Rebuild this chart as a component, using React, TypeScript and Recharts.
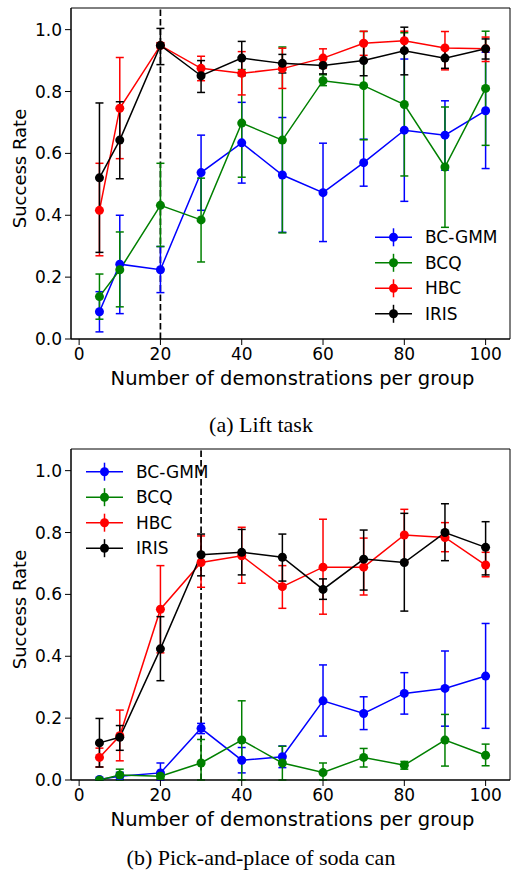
import React from 'react';
import { ComposedChart, Line, ErrorBar, XAxis, YAxis, ReferenceLine, ReferenceArea } from 'recharts';

const demos = [5, 10, 20, 30, 40, 50, 60, 70, 80, 90, 100];
const xTicks = [0, 20, 40, 60, 80, 100];
const yTicks = [0, 0.2, 0.4, 0.6, 0.8, 1.0];
const methods = ['BC-GMM', 'BCQ', 'HBC', 'IRIS'];
const colors = ['#0000ff', '#008000', '#ff0000', '#000000'];

// (a) Lift task: mean, lower and upper end of each error bar
const liftBcGmm = [0.088, 0.242, 0.224, 0.538, 0.634, 0.530, 0.473, 0.570, 0.675, 0.659, 0.738];
const liftBcGmmLo = [0.023, 0.082, 0.150, 0.416, 0.504, 0.345, 0.315, 0.494, 0.445, 0.546, 0.551];
const liftBcGmmHi = [0.153, 0.400, 0.299, 0.659, 0.765, 0.716, 0.633, 0.646, 0.905, 0.770, 0.927];
const liftBcq = [0.137, 0.224, 0.432, 0.385, 0.698, 0.643, 0.835, 0.819, 0.758, 0.556, 0.810];
const liftBcqLo = [0.064, 0.104, 0.299, 0.249, 0.523, 0.343, 0.819, 0.644, 0.527, 0.361, 0.626];
const liftBcqHi = [0.210, 0.346, 0.568, 0.520, 0.871, 0.944, 0.854, 0.994, 0.990, 0.750, 0.995];
const liftHbc = [0.416, 0.746, 0.949, 0.875, 0.859, 0.874, 0.908, 0.956, 0.964, 0.941, 0.938];
const liftHbcLo = [0.269, 0.583, 0.940, 0.835, 0.789, 0.810, 0.875, 0.917, 0.930, 0.870, 0.897];
const liftHbcHi = [0.568, 0.910, 0.958, 0.914, 0.929, 0.940, 0.938, 0.995, 0.995, 0.994, 0.976];
const liftIris = [0.521, 0.643, 0.949, 0.851, 0.908, 0.891, 0.884, 0.900, 0.932, 0.908, 0.938];
const liftIrisLo = [0.280, 0.518, 0.887, 0.797, 0.851, 0.860, 0.857, 0.851, 0.854, 0.875, 0.905];
const liftIrisHi = [0.763, 0.767, 1.004, 0.900, 0.962, 0.920, 0.910, 0.960, 1.008, 0.940, 0.970];

// (b) Pick-and-place of soda can
const canBcGmm = [0.002, 0.012, 0.023, 0.167, 0.064, 0.075, 0.256, 0.215, 0.280, 0.296, 0.336];
const canBcGmmLo = [0.0, 0.002, 0.0, 0.150, 0.023, 0.040, 0.142, 0.163, 0.213, 0.174, 0.167];
const canBcGmmHi = [0.005, 0.025, 0.055, 0.183, 0.105, 0.110, 0.372, 0.269, 0.347, 0.417, 0.506];
const canBcq = [0.0, 0.016, 0.012, 0.055, 0.129, 0.055, 0.024, 0.073, 0.048, 0.129, 0.080];
const canBcqLo = [0.0, 0.0, 0.004, 0.0, 0.0, 0.0, 0.0, 0.042, 0.035, 0.045, 0.046];
const canBcqHi = [0.0, 0.035, 0.020, 0.131, 0.256, 0.109, 0.055, 0.102, 0.060, 0.212, 0.116];
const canHbc = [0.073, 0.143, 0.552, 0.703, 0.725, 0.625, 0.688, 0.688, 0.792, 0.784, 0.695];
const canHbcLo = [0.042, 0.062, 0.411, 0.623, 0.636, 0.555, 0.536, 0.598, 0.706, 0.738, 0.657];
const canHbcHi = [0.103, 0.226, 0.693, 0.789, 0.817, 0.693, 0.843, 0.782, 0.875, 0.832, 0.736];
const canIris = [0.120, 0.138, 0.424, 0.728, 0.736, 0.720, 0.616, 0.714, 0.703, 0.800, 0.752];
const canIrisLo = [0.042, 0.096, 0.321, 0.660, 0.663, 0.643, 0.584, 0.614, 0.546, 0.709, 0.663];
const canIrisHi = [0.199, 0.176, 0.528, 0.795, 0.810, 0.795, 0.650, 0.808, 0.862, 0.893, 0.835];

const FONT = '"DejaVu Sans", sans-serif';

type Series = { mean: number[]; lo: number[]; hi: number[] };

function buildRows(series: Series[]) {
  return demos.map((x, i) => {
    const row: any = { x };
    series.forEach((s, k) => {
      row['m' + k] = s.mean[i];
      row['e' + k] = [Math.max(0, s.mean[i] - s.lo[i]), Math.max(0, s.hi[i] - s.mean[i])];
    });
    return row;
  });
}

const liftRows = buildRows([
  { mean: liftBcGmm, lo: liftBcGmmLo, hi: liftBcGmmHi },
  { mean: liftBcq, lo: liftBcqLo, hi: liftBcqHi },
  { mean: liftHbc, lo: liftHbcLo, hi: liftHbcHi },
  { mean: liftIris, lo: liftIrisLo, hi: liftIrisHi },
]);

const canRows = buildRows([
  { mean: canBcGmm, lo: canBcGmmLo, hi: canBcGmmHi },
  { mean: canBcq, lo: canBcqLo, hi: canBcqHi },
  { mean: canHbc, lo: canHbcLo, hi: canHbcHi },
  { mean: canIris, lo: canIrisLo, hi: canIrisHi },
]);

const XTitle = (p: any) => {
  const vb = p.viewBox;
  return (
    <text x={vb.x + vb.width / 2 + 2} y={vb.y + 46} textAnchor="middle" fontFamily={FONT} fontSize={19.5} fill="#000">
      Number of demonstrations per group
    </text>
  );
};

const YTitle = (p: any) => {
  const vb = p.viewBox;
  const cx = 19;
  const cy = vb.y + vb.height / 2 - 5;
  return (
    <text x={cx} y={cy} transform={`rotate(-90 ${cx} ${cy})`} textAnchor="middle" dominantBaseline="central"
      fontFamily={FONT} fontSize={18} fill="#000">
      Success Rate
    </text>
  );
};

function Panel({ rows, cutoff }: { rows: any[]; cutoff: number }) {
  return (
    <ComposedChart width={512} height={400} data={rows} margin={{ top: 8, right: 2, bottom: 0, left: 0 }}>
      <ReferenceArea x1={-2} x2={106} y1={0} y2={1.07} fill="none" stroke="#000" strokeWidth={1} ifOverflow="visible" />
      <XAxis dataKey="x" type="number" domain={[-2, 106]} ticks={xTicks} allowDataOverflow height={61}
        tickSize={6} tickMargin={3} stroke="#000" tick={{ fill: '#000', fontSize: 17, fontFamily: FONT }}
        label={{ content: XTitle }} />
      <YAxis type="number" domain={[0, 1.07]} ticks={yTicks} allowDataOverflow width={71}
        tickSize={6} tickMargin={3} stroke="#000" tick={{ fill: '#000', fontSize: 17, fontFamily: FONT }}
        tickFormatter={(v: number) => v.toFixed(1)} label={{ content: YTitle }} />
      <ReferenceLine x={cutoff} stroke="#000" strokeWidth={1.7} strokeDasharray="6.5 3" />
      {methods.map((name, k) => (
        <Line key={name} name={name} type="linear" dataKey={'m' + k} stroke={colors[k]} strokeWidth={1.5}
          dot={{ r: 4.5, fill: colors[k], stroke: colors[k], strokeWidth: 0 }} activeDot={false}
          isAnimationActive={false}>
          <ErrorBar dataKey={'e' + k} direction="y" width={4} strokeWidth={1.5} stroke={colors[k]} isAnimationActive={false} />
        </Line>
      ))}
    </ComposedChart>
  );
}

function LegendRows({ x, y }: { x: number; y: number }) {
  return (
    <g>
      {methods.map((name, k) => {
        const cy = y + k * 25.5;
        return (
          <g key={name}>
            <line x1={x} x2={x + 37} y1={cy} y2={cy} stroke={colors[k]} strokeWidth={1.5} />
            <line x1={x + 18.5} x2={x + 18.5} y1={cy - 9} y2={cy + 9} stroke={colors[k]} strokeWidth={1.5} />
            <circle cx={x + 18.5} cy={cy} r={4.5} fill={colors[k]} />
            <text x={x + 50} y={cy} dominantBaseline="central" fontFamily={FONT} fontSize={17} fill="#000">{name}</text>
          </g>
        );
      })}
    </g>
  );
}

export default function App() {
  return (
    <div style={{ position: 'absolute', left: 0, top: 0, width: 512, height: 880, background: '#fff' }}>
      <div style={{ position: 'absolute', left: 0, top: 0 }}>
        <Panel rows={liftRows} cutoff={20} />
      </div>
      <div style={{ position: 'absolute', left: 0, top: 441 }}>
        <Panel rows={canRows} cutoff={30} />
      </div>
      <svg width={512} height={880} style={{ position: 'absolute', left: 0, top: 0, pointerEvents: 'none' }}>
        <LegendRows x={375} y={237.3} />
        <LegendRows x={86} y={471.7} />
        <text x={261} y={432} textAnchor="middle" fontFamily='"Liberation Serif", serif' fontSize={22} fill="#000">(a) Lift task</text>
        <text x={261} y={865} textAnchor="middle" fontFamily='"Liberation Serif", serif' fontSize={22} fill="#000">(b) Pick-and-place of soda can</text>
      </svg>
    </div>
  );
}
